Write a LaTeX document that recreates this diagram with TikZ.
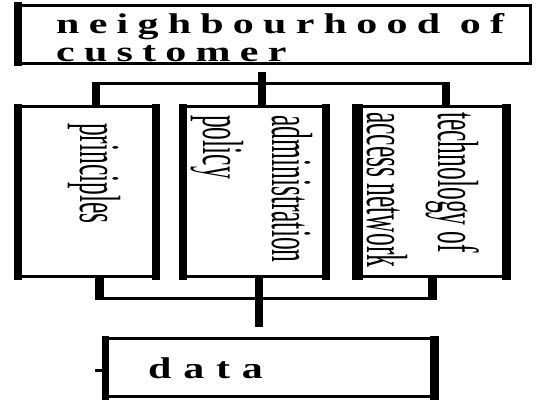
\documentclass[tikz,border=0pt]{standalone}
\usepackage{fontspec}
\setmainfont{Liberation Serif}
\newfontfamily\spacedbold{Liberation Serif Bold}[LetterSpace=22]
\newfontfamily\dataface{Liberation Serif Bold}[LetterSpace=28]

% thick left / right sides of a framed node (frame drawn 3pt wide)
\newcommand\barL[2]{\fill ([xshift=-1.5pt,yshift=1.5pt]#1.north west) rectangle ([xshift=#2-1.5pt,yshift=-1.5pt]#1.south west);}
\newcommand\barR[2]{\fill ([xshift=1.5pt,yshift=1.5pt]#1.north east) rectangle ([xshift=1.5pt-#2,yshift=-1.5pt]#1.south east);}

\tikzset{
  frame/.style={draw, line width=3pt, fill=white, inner sep=0pt},
  vbar/.style={line width=8pt, line cap=butt},
  hbar/.style={line width=3.5pt, line cap=butt},
  headtext/.style={anchor=base west, inner sep=0pt,
                   font=\spacedbold\fontsize{30}{30}\selectfont},
  vtext/.style={rotate=-90, anchor=base west, inner sep=0pt,
                font=\fontsize{58}{58}\selectfont},
}

\begin{document}
\begin{tikzpicture}[x=1pt, y=-1pt]
\useasboundingbox[fill=white] (0,0) rectangle (536,402);

% boxes
\node[frame, minimum width=514pt, minimum height=58pt]  (tb) at (273.5,34) {};
\node[frame, minimum width=140pt, minimum height=170pt] (lb) at (86.5,191.5) {};
\node[frame, minimum width=145pt, minimum height=170pt] (mb) at (254,191.5) {};
\node[frame, minimum width=153pt, minimum height=170pt] (rb) at (431,191.5) {};
\node[frame, minimum width=331pt, minimum height=58pt]  (db) at (270,367.5) {};

\barL{tb}{8pt}
\barL{lb}{8pt} \barR{lb}{8pt}
\barL{mb}{8pt} \barR{mb}{8pt}
\barL{rb}{11pt} \barR{rb}{9pt}
\barL{db}{7pt} \barR{db}{9pt}

% upper bus
\coordinate (tA) at (92,83.5);
\coordinate (tB) at (450,83.5);
\coordinate (tC) at (262,72);
\draw[hbar] (tA) -- (tB);
\draw[vbar] (tC) -- (tC |- mb.north);
\draw[vbar] ([xshift=4pt]tA |- tB) ++(0,-1.75) -- ([xshift=4pt]tA |- lb.north);
\draw[vbar] ([xshift=-4pt]tB) ++(0,-1.75) -- ([xshift=-4pt]tB |- rb.north);

% lower bus
\coordinate (bA) at (95,298.5);
\coordinate (bB) at (437,298.5);
\coordinate (bC) at (259,327);
\draw[hbar] (bA) -- (bB);
\draw[line width=9pt] ([xshift=4.5pt]bA |- lb.south) -- ([xshift=4.5pt]bA) ++(0,1.75);
\draw[line width=9pt] ([xshift=-4.5pt]bB |- rb.south) -- ([xshift=-4.5pt]bB) ++(0,1.75);
\draw[vbar] (bC |- mb.south) -- (bC);
\coordinate (tick) at (95,370);
\draw[line width=3pt] (tick) -- (tick -| db.west);

% labels
\node[headtext] (t1) at (56,33) {\scalebox{1.4}[0.95]{neighbourhood of}};
\node[headtext] (t2) at (56,61) {\scalebox{1.4}[0.95]{customer}};
\node[anchor=base west, inner sep=0pt, font=\dataface\fontsize{30}{30}\selectfont]
  (t3) at (148,378) {\scalebox{1.4}[1]{data}};

\node[vtext] (p1) at (80,123)  {\scalebox{0.44}[1]{principles}};
\node[vtext] (a1) at (272,115) {\scalebox{0.44}[1]{administration}};
\node[vtext] (a2) at (203,115) {\scalebox{0.44}[1]{policy}};
\node[vtext] (n1) at (438,112) {\scalebox{0.44}[1]{technology of}};
\node[vtext] (n2) at (367,112) {\scalebox{0.44}[1]{access network}};
\end{tikzpicture}
\end{document}
